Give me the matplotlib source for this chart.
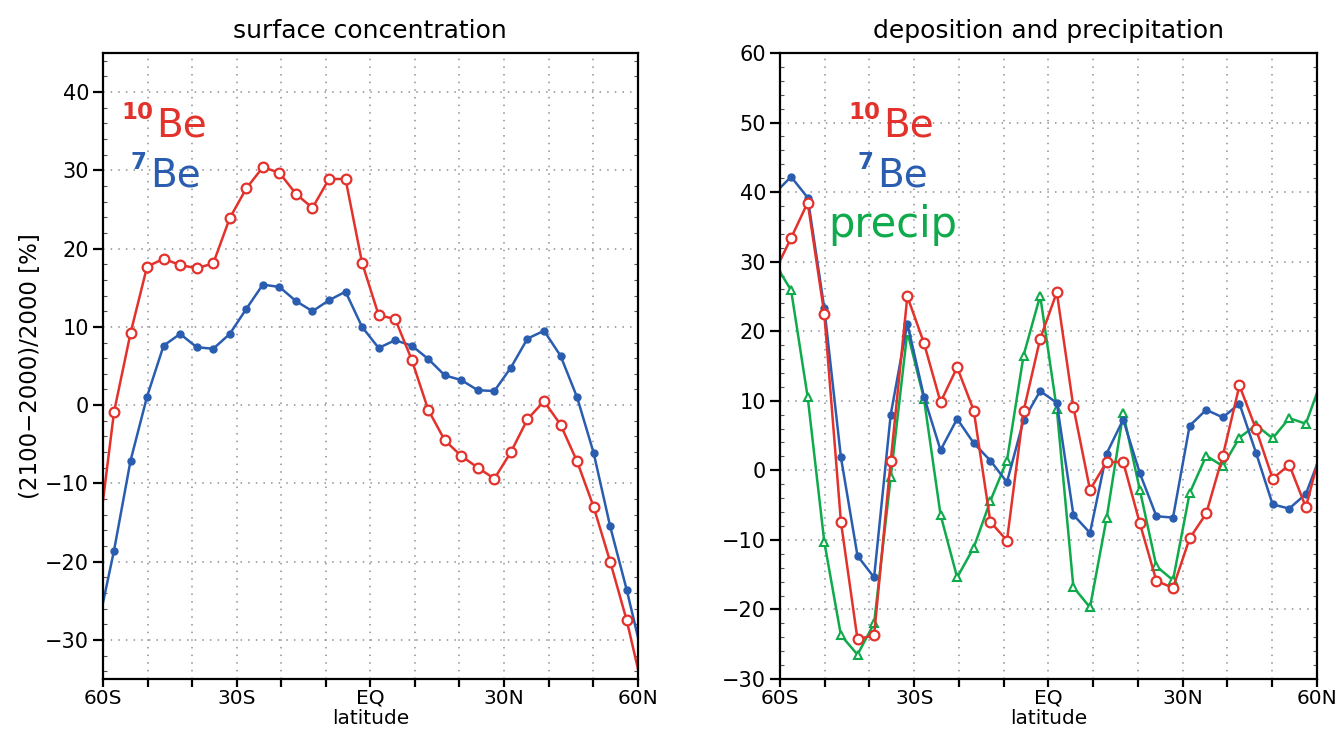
import matplotlib
matplotlib.use("Agg")
import matplotlib.pyplot as plt
from matplotlib.ticker import MultipleLocator, FixedLocator

# T31 gaussian latitudes between about 61S and 61N
lats = [-61.23, -57.52, -53.81, -50.10, -46.39, -42.68, -38.97, -35.26, -31.54,
        -27.83, -24.12, -20.41, -16.70, -12.99, -9.28, -5.57, -1.86, 1.86, 5.57,
        9.28, 12.99, 16.70, 20.41, 24.12, 27.83, 31.54, 35.26, 38.97, 42.68, 46.39,
        50.10, 53.81, 57.52, 61.23]

# surface concentration change [%]
conc_be10 = [-17.9, -0.9, 9.2, 17.7, 18.7, 17.9, 17.5, 18.1, 23.9, 27.7, 30.4, 29.7,
             27.0, 25.2, 28.9, 28.9, 18.2, 11.5, 11.0, 5.8, -0.6, -4.5, -6.5, -8.0,
             -9.4, -6.0, -1.8, 0.5, -2.5, -7.2, -13.0, -20.0, -27.5, -36.6]
conc_be7 = [-28.6, -18.6, -7.1, 1.1, 7.6, 9.1, 7.4, 7.2, 9.1, 12.3, 15.4, 15.1,
            13.3, 12.0, 13.4, 14.5, 10.0, 7.3, 8.3, 7.6, 5.9, 3.8, 3.2, 1.9, 1.8,
            4.8, 8.5, 9.5, 6.3, 1.0, -6.1, -15.5, -23.6, -32.5]

# deposition and precipitation change [%]
dep_be10 = [28.5, 33.4, 38.5, 22.5, -7.4, -24.3, -23.7, 1.3, 25.0, 18.3, 9.8, 14.8,
            8.6, -7.4, -10.1, 8.5, 18.9, 25.6, 9.1, -2.8, 1.2, 1.2, -7.6, -15.9,
            -16.9, -9.8, -6.2, 2.1, 12.2, 5.9, -1.2, 0.8, -5.3, 3.8]
dep_be7 = [39.8, 42.2, 39.2, 23.3, 1.9, -12.3, -15.4, 8.0, 21.1, 10.6, 2.9, 7.4,
           3.9, 1.4, -1.7, 7.2, 11.4, 9.7, -6.4, -9.0, 2.4, 7.3, -0.4, -6.6, -6.8,
           6.4, 8.7, 7.6, 9.6, 2.5, -4.9, -5.5, -3.4, 2.9]
precip = [29.8, 25.9, 10.5, -10.3, -23.7, -26.5, -22.0, -1.0, 19.9, 10.3, -6.4,
          -15.4, -11.1, -4.4, 1.4, 16.5, 25.1, 8.8, -16.8, -19.7, -6.9, 8.2, -2.8,
          -13.8, -15.8, -3.3, 2.1, 0.6, 4.7, 6.5, 4.6, 7.5, 6.7, 13.3]

lat_ticks = [-60, -30, 0, 30, 60]
lat_labels = ["60S", "30S", "EQ", "30N", "60N"]

RED = "#e3312b"
BLUE = "#2a5db0"
GREEN = "#0faa4b"

plt.rcParams["font.family"] = ["DejaVu Sans"]

fig = plt.figure(figsize=(13.37, 7.33), dpi=100)
ax1 = fig.add_axes([0.077, 0.0737, 0.400, 0.854])
ax2 = fig.add_axes([0.5834, 0.0737, 0.4016, 0.854])


def style(ax, ylo, yhi):
    ax.set_xlim(-60, 60)
    ax.set_ylim(ylo, yhi)
    ax.xaxis.set_major_locator(FixedLocator(lat_ticks))
    ax.set_xticklabels(lat_labels)
    ax.xaxis.set_minor_locator(MultipleLocator(10))
    ax.yaxis.set_major_locator(MultipleLocator(10))
    ax.yaxis.set_minor_locator(MultipleLocator(2))
    ax.tick_params(axis="x", which="both", direction="out", length=6, width=1.6,
                   labelsize=14.5, pad=1)
    ax.tick_params(axis="y", which="major", direction="out", length=7, width=1.6,
                   labelsize=15, pad=3)
    ax.tick_params(axis="y", which="minor", direction="in", length=3, width=0.8,
                   left=True, right=True, color="#555555")
    ax.grid(True, which="both", axis="x", linestyle=(0, (1, 4)), color="#8a8f99",
            linewidth=1.1)
    ax.grid(True, which="major", axis="y", linestyle=(0, (1, 4)), color="#8a8f99",
            linewidth=1.1)
    for s in ax.spines.values():
        s.set_linewidth(1.6)
    ax.set_xlabel("latitude", fontsize=14.5, labelpad=1)


def iso_label(ax, x, y, mass, color, sup_dx=0.005, sup_dy=0.028):
    # big "Be" with a bold mass number tucked up to its left
    ax.text(x, y, "Be", color=color, fontsize=28, transform=ax.transAxes,
            va="baseline", ha="left")
    ax.text(x - sup_dx, y + sup_dy, mass, color=color, fontsize=16.5,
            fontweight="bold", transform=ax.transAxes, va="baseline", ha="right")


style(ax1, -35, 45)
style(ax2, -30, 60)

ax1.plot(lats, conc_be7, color=BLUE, lw=1.8, marker="o", ms=5, mfc=BLUE, mec=BLUE)
ax1.plot(lats, conc_be10, color=RED, lw=1.8, marker="o", ms=7, mfc="white",
         mec=RED, mew=1.6)
ax1.set_title("surface concentration", fontsize=18, pad=11)
ax1.set_ylabel("(2100\u22122000)/2000 [%]", fontsize=16.5, labelpad=2)
iso_label(ax1, 0.099, 0.866, "10", RED)
iso_label(ax1, 0.088, 0.786, "7", BLUE, sup_dx=0.007, sup_dy=0.028)

ax2.plot(lats, precip, color=GREEN, lw=1.8, marker="^", ms=6, mfc="white",
         mec=GREEN, mew=1.5)
ax2.plot(lats, dep_be7, color=BLUE, lw=1.8, marker="o", ms=5, mfc=BLUE, mec=BLUE)
ax2.plot(lats, dep_be10, color=RED, lw=1.8, marker="o", ms=7, mfc="white",
         mec=RED, mew=1.6)
ax2.set_title("deposition and precipitation", fontsize=18, pad=11)
iso_label(ax2, 0.192, 0.866, "10", RED)
iso_label(ax2, 0.181, 0.786, "7", BLUE, sup_dx=0.007, sup_dy=0.028)
ax2.text(0.089, 0.706, "precip", color=GREEN, fontsize=30,
         transform=ax2.transAxes, va="baseline")

fig.savefig("out.png", dpi=100)
